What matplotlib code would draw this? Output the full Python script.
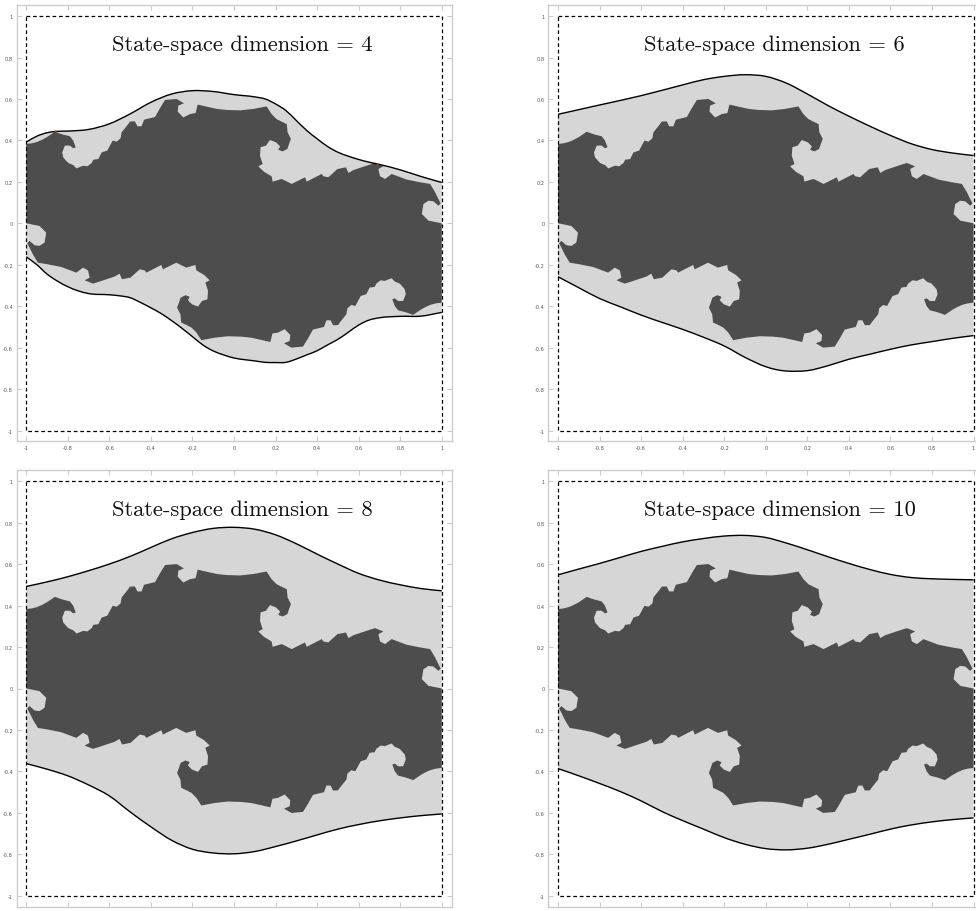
import matplotlib
matplotlib.use("Agg")
import matplotlib.pyplot as plt
import numpy as np
from matplotlib.path import Path
from matplotlib.patches import PathPatch

DARK = "#4d4d4d"
LIGHT = "#d6d6d6"
FRAME = "#cccccc"

dims = [4, 6, 8, 10]
ticks = [-1, -0.8, -0.6, -0.4, -0.2, 0, 0.2, 0.4, 0.6, 0.8, 1]
tick_labels = ["-1", "-0.8", "-0.6", "-0.4", "-0.2", "0", "0.2", "0.4", "0.6", "0.8", "1"]

# Dark region, upper edge, read left to right
dark_top_x = [-1.0, -.974, -.950, -.926, -.902, -.881, -.862, -.841, -.822, -.790, -.774, -.762, -.774, -.790,
              -.814, -.827, -.822, -.798, -.774, -.758, -.726, -.706, -.685, -.677, -.653, -.637, -.610, -.584,
              -.565, -.546, -.541, -.509, -.501, -.477, -.465, -.445, -.433, -.380, -.356, -.332, -.276, -.241,
              -.268, -.271, -.244, -.212, -.185, -.175, -.132, -.083, -.035, .029, .093, .157, .181, .205, .230,
              .254, .258, .274, .265, .257, .234, .213, .222, .202, .173, .154, .128, .125, .138, .117, .144,
              .181, .186, .230, .278, .342, .350, .422, .430, .454, .498, .539, .551, .575, .647, .679, .719,
              .695, .703, .727, .759, .831, .896, .944, .968, .984, .995, .984, .960, .936, .912, .904, .936,
              .960, 1.0]
dark_top_y = [.383, .386, .392, .402, .415, .429, .442, .434, .428, .420, .399, .367, .362, .375,
              .375, .342, .318, .291, .281, .265, .278, .275, .291, .307, .310, .342, .351, .399,
              .394, .410, .439, .479, .491, .492, .468, .468, .500, .513, .556, .595, .600, .579,
              .568, .539, .511, .527, .532, .573, .563, .552, .547, .545, .552, .564, .527, .503, .490,
              .479, .439, .407, .383, .359, .347, .355, .371, .391, .402, .375, .367, .326, .286, .275, .249,
              .227, .201, .214, .190, .222, .201, .238, .227, .222, .262, .270, .243, .257, .281, .291, .275,
              .262, .227, .214, .238, .211, .198, .190, .150, .117, .096, .085, .106, .109, .093, .045, .013,
              .008, 0.0]

# Dark region, lower edge, read right to left
dark_bot_x = [1.0, .974, .950, .926, .902, .881, .862, .841, .822, .790, .774, .762, .774, .790,
              .814, .827, .822, .798, .774, .758, .726, .706, .685, .677, .653, .637, .610, .584,
              .565, .546, .541, .509, .501, .477, .465, .445, .433, .380, .356, .332, .276, .241,
              .268, .271, .244, .212, .185, .175, .132, .083, .035, -.029, -.093, -.157, -.181, -.205, -.230,
              -.254, -.258, -.274, -.265, -.257, -.234, -.213, -.222, -.202, -.173, -.154, -.128, -.125, -.138,
              -.117, -.144, -.181, -.186, -.230, -.278, -.342, -.350, -.422, -.430, -.454, -.498, -.539, -.551,
              -.575, -.647, -.679, -.719, -.695, -.703, -.727, -.759, -.831, -.896, -.944, -.968, -.984, -.995,
              -.984, -.960, -.936, -.912, -.904, -.936, -.960, -1.0]
dark_bot_y = [-.383, -.386, -.392, -.402, -.415, -.429, -.442, -.434, -.428, -.420, -.399, -.367, -.362, -.375,
              -.375, -.342, -.318, -.291, -.281, -.265, -.278, -.275, -.291, -.307, -.310, -.342, -.351, -.399,
              -.394, -.410, -.439, -.479, -.491, -.492, -.468, -.468, -.500, -.513, -.556, -.595, -.600, -.579,
              -.568, -.539, -.511, -.527, -.532, -.573, -.563, -.552, -.547, -.545, -.552, -.564, -.527, -.503,
              -.490, -.479, -.439, -.407, -.383, -.359, -.347, -.355, -.371, -.391, -.402, -.375, -.367, -.326,
              -.286, -.275, -.249, -.227, -.201, -.214, -.190, -.222, -.201, -.238, -.227, -.222, -.262, -.270,
              -.243, -.257, -.281, -.291, -.275, -.262, -.227, -.214, -.238, -.211, -.198, -.190, -.150, -.117,
              -.096, -.085, -.106, -.109, -.093, -.045, -.013, -.008, 0.0]

# Region boundaries per state-space dimension
d4_top_x = [-1, -.95, -.9, -.862, -.8, -.7, -.6, -.5, -.4, -.3, -.2, -.1, 0, .1, .15, .2, .25, .3, .35, .4, .45, .5,
            .55, .6, .65, .7, .8, .9, 1]
d4_top_y = [.392, .42, .437, .443, .445, .453, .48, .528, .584, .624, .64, .636, .621, .61, .60, .576, .544, .496,
            .448, .408, .371, .343, .324, .308, .295, .284, .258, .226, .197]
d4_bot_x = [-1, -.95, -.9, -.85, -.8, -.75, -.7, -.6, -.55, -.5, -.45, -.4, -.35, -.3, -.25, -.2, -.15, -.1, -.05, 0,
            .05, .1, .15, .2, .25, .3, .35, .4, .45, .5, .55, .6, .65, .7, .8, .9, 1]
d4_bot_y = [-.162, -.199, -.245, -.279, -.306, -.326, -.339, -.345, -.35, -.359, -.382, -.408, -.436, -.47, -.507,
            -.547, -.587, -.616, -.635, -.65, -.658, -.664, -.671, -.672, -.671, -.655, -.635, -.615, -.587, -.56,
            -.526, -.491, -.467, -.456, -.449, -.448, -.43]

d6_top_x = [-1, -.8, -.6, -.4, -.3, -.2, -.1, 0, .1, .2, .3, .4, .5, .6, .7, .8, .9, 1]
d6_top_y = [.526, .571, .616, .668, .693, .709, .717, .709, .676, .624, .568, .517, .469, .424, .384, .356, .339, .327]
d6_bot_x = [-1, -.9, -.8, -.7, -.6, -.5, -.4, -.3, -.2, -.1, 0, .05, .1, .15, .2, .3, .4, .5, .6, .7, .8, .9, 1]
d6_bot_y = [-.258, -.311, -.363, -.403, -.443, -.478, -.512, -.55, -.592, -.647, -.692, -.706, -.713, -.714, -.711,
            -.687, -.656, -.632, -.608, -.587, -.571, -.555, -.542]

d8_top_x = [-1, -.9, -.8, -.7, -.6, -.5, -.4, -.3, -.2, -.1, 0, .1, .2, .3, .4, .5, .6, .7, .8, .9, 1]
d8_top_y = [.492, .514, .539, .568, .6, .637, .68, .722, .752, .772, .777, .768, .741, .698, .648, .6, .555, .523,
            .5, .482, .471]
d8_bot_x = [-1, -.9, -.8, -.7, -.6, -.5, -.4, -.3, -.2, -.1, 0, .1, .2, .3, .4, .5, .6, .7, .8, .9, 1]
d8_bot_y = [-.362, -.389, -.421, -.465, -.518, -.595, -.667, -.732, -.775, -.793, -.797, -.786, -.762, -.735, -.706,
            -.678, -.656, -.638, -.624, -.613, -.605]

d10_top_x = [-1, -.9, -.8, -.7, -.6, -.5, -.4, -.3, -.2, -.1, 0, .1, .2, .3, .4, .5, .6, .7, .8, .9, 1]
d10_top_y = [.548, .576, .603, .632, .661, .685, .707, .723, .735, .738, .728, .701, .669, .635, .603, .574, .55,
             .535, .529, .526, .524]
d10_bot_x = [-1, -.9, -.8, -.7, -.6, -.5, -.4, -.3, -.2, -.1, 0, .1, .2, .3, .4, .5, .6, .7, .8, .9, 1]
d10_bot_y = [-.386, -.421, -.458, -.497, -.542, -.593, -.637, -.678, -.719, -.751, -.772, -.778, -.77, -.751, -.727,
             -.703, -.678, -.658, -.643, -.632, -.624]

# small brown specks where the dimension 4 boundary touches the dark region
touch_x = [-.862, .69]
touch_y = [.443, .288]

curves = [
    (d4_top_x, d4_top_y, d4_bot_x, d4_bot_y),
    (d6_top_x, d6_top_y, d6_bot_x, d6_bot_y),
    (d8_top_x, d8_top_y, d8_bot_x, d8_bot_y),
    (d10_top_x, d10_top_y, d10_bot_x, d10_bot_y),
]

W, H = 976, 912
# left, top, right, bottom of each frame in pixels
frames = [(16.5, 6.3, 451.5, 442.3), (548.3, 6.3, 983.3, 442.3),
          (16.5, 471.3, 451.5, 907.7), (548.3, 471.3, 983.3, 907.7)]


def bezier(x, y):
    # bezier control points so the library draws a smooth curve through the read points
    x = np.asarray(x, float)
    y = np.asarray(y, float)
    m = np.gradient(y, x)
    verts = [(x[0], y[0])]
    for i in range(len(x) - 1):
        dx = x[i + 1] - x[i]
        verts.append((x[i] + dx / 3, y[i] + m[i] * dx / 3))
        verts.append((x[i + 1] - dx / 3, y[i + 1] - m[i + 1] * dx / 3))
        verts.append((x[i + 1], y[i + 1]))
    codes = [Path.MOVETO] + [Path.CURVE4] * (len(verts) - 1)
    return verts, codes


fig = plt.figure(figsize=(W / 100, H / 100), dpi=100)

for dim, curve, (l, t, r, b) in zip(dims, curves, frames):
    ax = fig.add_axes([l / W, 1 - b / H, (r - l) / W, (b - t) / H])
    top_x, top_y, bot_x, bot_y = curve

    v1, c1 = bezier(top_x, top_y)
    v2, c2 = bezier(bot_x, bot_y)
    v3, c3 = bezier(bot_x[::-1], bot_y[::-1])
    c3[0] = Path.LINETO
    ax.add_patch(PathPatch(Path(v1 + v3 + [v1[0]], c1 + c3 + [Path.CLOSEPOLY]), fc=LIGHT, lw=0, zorder=1))
    ax.fill(np.r_[dark_top_x, dark_bot_x], np.r_[dark_top_y, dark_bot_y], color=DARK, lw=0, zorder=2)
    ax.add_patch(PathPatch(Path(v1, c1), fill=False, ec="black", lw=1.0, zorder=3))
    ax.add_patch(PathPatch(Path(v2, c2), fill=False, ec="black", lw=1.0, zorder=3))
    if dim == 4:
        ax.scatter(touch_x, touch_y, s=2.5, color="#8a4a20", lw=0, zorder=4)
    ax.plot([-1, 1, 1, -1, -1], [1, 1, -1, -1, 1], color="black", lw=0.9,
            linestyle=(0, (3, 2.2)), zorder=4)

    ax.set_xlim(-1.047, 1.047)
    ax.set_ylim(-1.052, 1.052)
    ax.set_xticks(ticks)
    ax.set_yticks(ticks)
    ax.set_xticklabels(tick_labels)
    ax.set_yticklabels(tick_labels)
    ax.tick_params(direction="in", length=3.4, width=0.8, color=FRAME, labelsize=3.6,
                   labelcolor="#555555", top=True, right=True, pad=2.5)
    for spine in ax.spines.values():
        spine.set_color(FRAME)
        spine.set_linewidth(1.0)

    ax.text(-0.586, 0.835, f"State-space dimension = {dim}", family="cmr10", fontsize=16.2,
            color="#111111", ha="left", va="baseline", zorder=5)

fig.savefig("out.png", dpi=100)
